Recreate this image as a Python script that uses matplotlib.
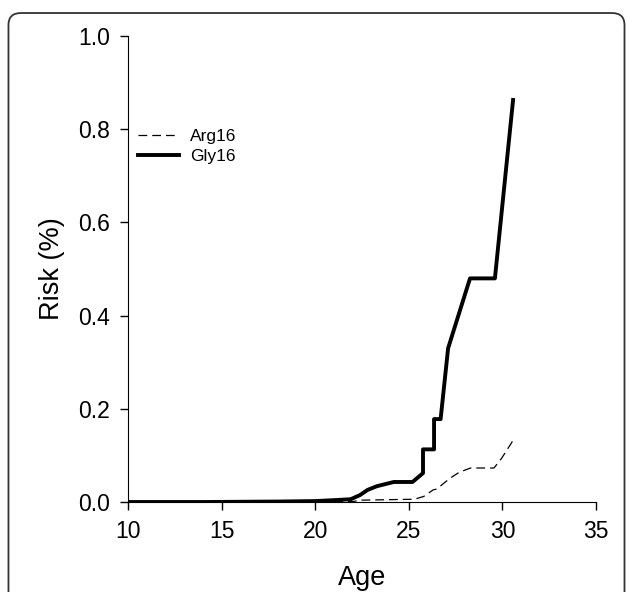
import matplotlib.pyplot as plt
import matplotlib
from matplotlib.patches import FancyBboxPatch

matplotlib.rcParams['font.family'] = ['Liberation Sans', 'DejaVu Sans']

# Gly16 risk curve
gly_age = [10, 14, 18, 20, 21, 21.9, 22.4, 22.8, 23.3, 24.2, 25.2, 25.76, 25.76, 26.35, 26.35,
           26.7, 27.1, 28.27, 29.6, 30.57]
gly_risk = [0.0, 0.0, 0.001, 0.002, 0.004, 0.006, 0.015, 0.026, 0.034, 0.043, 0.043, 0.062, 0.113,
            0.113, 0.178, 0.178, 0.33, 0.48, 0.48, 0.863]

# Arg16 risk curve
arg_age = [10, 18, 22, 22.5, 25.3, 25.8, 25.9, 26.3, 26.5, 27.2, 27.7, 28.3, 29.55, 29.96, 30.55]
arg_risk = [0.0, 0.0, 0.001, 0.004, 0.006, 0.012, 0.015, 0.026, 0.028, 0.051, 0.064, 0.073, 0.073,
            0.094, 0.131]

xticks = [10, 15, 20, 25, 30, 35]
yticks = [0.0, 0.2, 0.4, 0.6, 0.8, 1.0]

fig = plt.figure(figsize=(6.27, 5.92), dpi=100)
ax = fig.add_axes([0.204, 0.152, 0.7466, 0.787])

ax.plot(arg_age, arg_risk, color='black', lw=0.9, dashes=(7, 4), label='Arg16')
ax.plot(gly_age, gly_risk, color='black', lw=2.8, label='Gly16')

ax.set_xlim(10, 35)
ax.set_ylim(0, 1.0)
ax.set_xticks(xticks)
ax.set_yticks(yticks)
ax.set_yticklabels([f'{v:.1f}' for v in yticks])
ax.spines['top'].set_visible(False)
ax.spines['right'].set_visible(False)
ax.tick_params(direction='out', length=6, width=1, labelsize=16.5, pad=7)
ax.set_xlabel('Age', fontsize=19.5, labelpad=16)
ax.set_ylabel('Risk (%)', fontsize=19.5, labelpad=9)

ax.legend(loc='upper left', bbox_to_anchor=(0.021, 0.80), frameon=False, fontsize=12.5,
          handlelength=2.4, handletextpad=0.6, labelspacing=0.25, borderpad=0, borderaxespad=0)

# rounded frame around the figure (cut off at the bottom)
frame = FancyBboxPatch((0.0135, -0.05), 0.9825, 1.028, boxstyle='round,pad=0,rounding_size=0.02',
                       transform=fig.transFigure, fill=False, edgecolor='#333333', lw=1.3,
                       clip_on=False)
fig.patches.append(frame)

fig.savefig('out.png', dpi=100)
